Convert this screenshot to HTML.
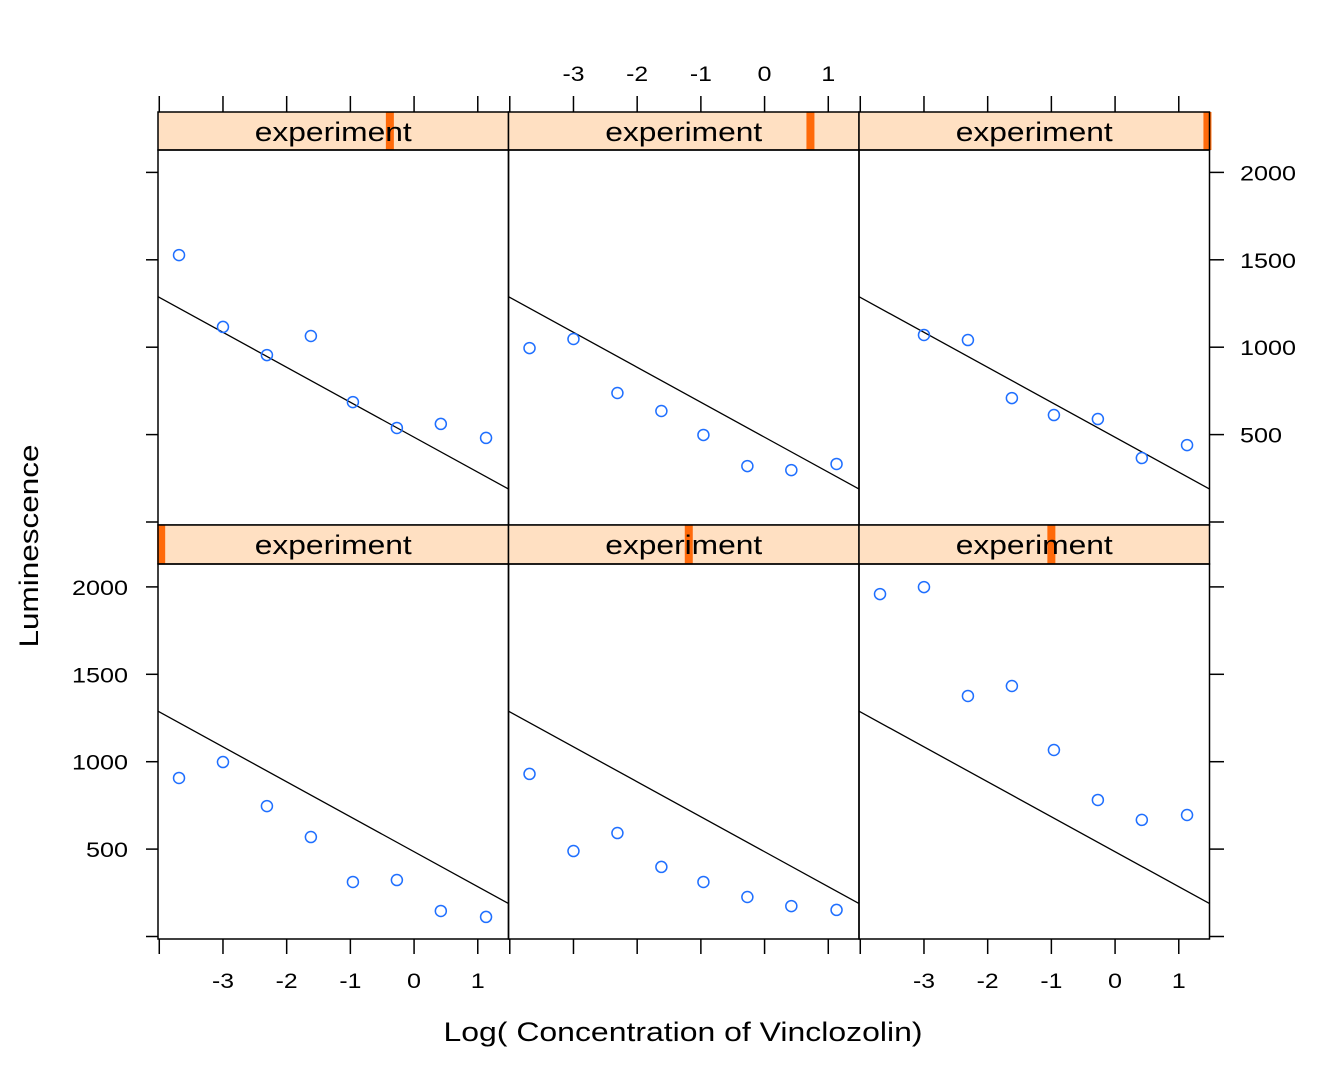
<!DOCTYPE html>
<html><head><meta charset="utf-8"><style>
body{margin:0;background:#fff}
svg{display:block;font-family:"Liberation Sans",Arial,sans-serif}
</style></head><body>
<svg id="c" width="1344" height="1075" xmlns="http://www.w3.org/2000/svg"></svg>
<script>
const xVals=[-3.69,-3.0,-2.31,-1.62,-0.96,-0.27,0.42,1.13];
const panel1=[1527,1116,955,1064,686,538,561,481];
const panel2=[995,1047,738,635,498,320,297,332];
const panel3=[null,1070,1041,709,612,589,366,440];
const panel4=[907,998,746,569,312,323,146,112];
const panel5=[930,489,592,398,312,226,174,152];
const panel6=[1959,1999,1376,1433,1067,781,667,695];
const stripMarks=[-0.38,0.72,1.45,-3.97,-1.19,-1.0];
const xTicks=[-4,-3,-2,-1,0,1];
const xTickLabels=["","-3","-2","-1","0","1"];
const yTicks=[0,500,1000,1500,2000];
const yTickLabels=["","500","1000","1500","2000"];
const lineIntercept=485, lineSlope=-200;

const svg=document.getElementById('c');
const NS='http://www.w3.org/2000/svg';
function mk(t,a,p){const e=document.createElementNS(NS,t);for(const k in a)e.setAttribute(k,a[k]);(p||svg).appendChild(e);return e;}
function tw(s){let w=0;for(const ch of s)w+=(ch==='-'?8:14);return w;}
const colL=[158,508.5,859], colW=350.5;
const rows=[{top:150,bot:525,zero:522,stripTop:112},{top:564,bot:939,zero:936.5,stripTop:525}];
const ppu=63.7, ppv=0.1748;
function xs(c,v){return colL[c]+(v+4.02)*ppu;}
function ys(r,v){return rows[r].zero-v*ppv;}
const panels=[panel1,panel2,panel3,panel4,panel5,panel6];
for(let p=0;p<6;p++){
  const r=Math.floor(p/3), c=p%3, R=rows[r];
  const g=mk('g',{});
  
  
  const s=mk('rect',{x:colL[c],y:R.stripTop,width:colW,height:R.top-R.stripTop,fill:'#ffe0c2',stroke:'none'},g);
  
  
  const m=mk('rect',{x:xs(c,stripMarks[p])-4,y:R.stripTop,width:8,height:R.top-R.stripTop,fill:'#ff6a0a'},g);
  
  
  const st=mk('text',{x:colL[c]+colW/2,y:R.stripTop+29,'text-anchor':'middle','font-size':27,textLength:157,lengthAdjust:'spacingAndGlyphs'},g);
  st.textContent='experiment';
  
  
  mk('rect',{x:colL[c],y:R.stripTop,width:colW,height:R.top-R.stripTop,fill:'none',stroke:'#000','stroke-width':1.5},g);
  mk('rect',{x:colL[c],y:R.top,width:colW,height:R.bot-R.top,fill:'none',stroke:'#000','stroke-width':1.5},g);
  const l=mk('line',{x1:xs(c,-4.02),y1:ys(r,lineIntercept+lineSlope*-4.02),x2:xs(c,1.48),y2:ys(r,lineIntercept+lineSlope*1.48),stroke:'#000','stroke-width':1.3},g);
  
  
  panels[p].forEach((v,i)=>{ if(v==null)return;
    const pt=mk('circle',{cx:xs(c,xVals[i]),cy:ys(r,v),r:5.5,fill:'none',stroke:'#1f6fff','stroke-width':1.5},g);
    
    
  });
}
for(let c=0;c<3;c++){
  xTicks.forEach((t,i)=>{
    const x=xs(c,t);
    mk('line',{x1:x,y1:96,x2:x,y2:112,stroke:'#000','stroke-width':1.5});
    mk('line',{x1:x,y1:939,x2:x,y2:954,stroke:'#000','stroke-width':1.5});
    const lab=xTickLabels[i]; if(!lab)return;
    if(c===1){const tl=mk('text',{x:x,y:81,'text-anchor':'middle','font-size':21,textLength:tw(lab),lengthAdjust:'spacingAndGlyphs'});tl.textContent=lab;
      }
    else{const tl=mk('text',{x:x,y:988,'text-anchor':'middle','font-size':21,textLength:tw(lab),lengthAdjust:'spacingAndGlyphs'});tl.textContent=lab;
      }
  });
}
for(let r=0;r<2;r++){
  yTicks.forEach((t,i)=>{
    const y=ys(r,t);
    mk('line',{x1:146,y1:y,x2:158,y2:y,stroke:'#000','stroke-width':1.5});
    mk('line',{x1:1209.5,y1:y,x2:1224,y2:y,stroke:'#000','stroke-width':1.5});
    const lab=yTickLabels[i]; if(!lab)return;
    if(r===1){const tl=mk('text',{x:128,y:y+8,'text-anchor':'end','font-size':21,textLength:tw(lab),lengthAdjust:'spacingAndGlyphs'});tl.textContent=lab;
      }
    else{const tl=mk('text',{x:1240,y:y+8,'text-anchor':'start','font-size':21,textLength:tw(lab),lengthAdjust:'spacingAndGlyphs'});tl.textContent=lab;
      }
  });
}
const xl=mk('text',{x:683,y:1041,'text-anchor':'middle','font-size':27,textLength:479,lengthAdjust:'spacingAndGlyphs'});
xl.textContent='Log( Concentration of Vinclozolin)';


const yl=mk('text',{x:0,y:0,'text-anchor':'middle','font-size':27,textLength:203,lengthAdjust:'spacingAndGlyphs',transform:'translate(38,546) rotate(-90)'});
yl.textContent='Luminescence';


</script>
</body></html>
